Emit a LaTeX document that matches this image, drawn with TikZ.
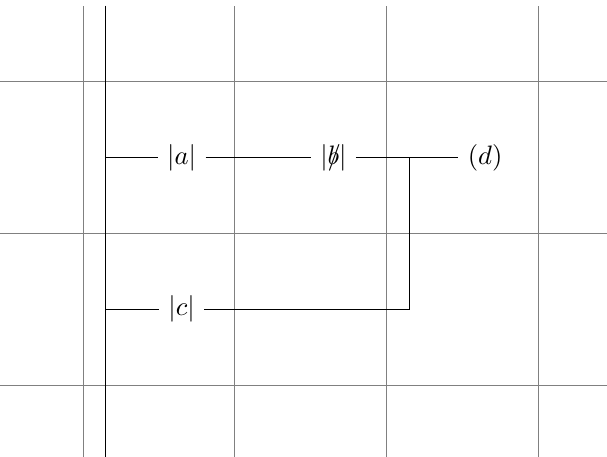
\documentclass[tikz,border=0pt]{standalone}
\usepackage{amsmath}
\usepackage{amssymb}
\usepackage{tikz}
\usetikzlibrary{positioning}
\tikzstyle{gridline} = [help lines]
\tikzstyle{rail} = [draw=black]
\tikzstyle{contact} = [inner sep=0.3333em]
\tikzstyle{wire} = [draw=black]

\begin{document}
\begin{tikzpicture}
\useasboundingbox (-1.094,-0.949) rectangle (6.906,5.074);
% Grid
\begin{scope}
\clip (-1.094,-0.949) rectangle (6.906,5.074);
\draw[gridline, step=2] (-2,-2) grid (7,5);
\end{scope}

% Power rail
\coordinate (railtop) at (0.3,5);
\coordinate (railbot) at (0.3,-0.95);
\draw[rail] (railtop) -- (railbot);

% Rung 1
\coordinate (r1) at (0.3,3);
\node (a) [contact] at (1.3,3) {$|a|$};
\node (b) [contact] at (3.3,3) {$|\rlap{$/$}b|$};
\node (d) [contact] at (5.3,3) {$(d)$};
\coordinate (j1) at (4.3,3);

% Rung 2
\coordinate (r2) at (0.3,1);
\node (c) [contact] at (1.3,1) {$|c|$};
\coordinate (j2) at (4.3,1);

% Wires
\draw[wire] (r1) -- (a);
\draw[wire] (a) -- (b);
\draw[wire] (b) -- (d);
\draw[wire] (r2) -- (c);
\draw[wire] (c) -- (j2) -- (j1);
\end{tikzpicture}
\end{document}
